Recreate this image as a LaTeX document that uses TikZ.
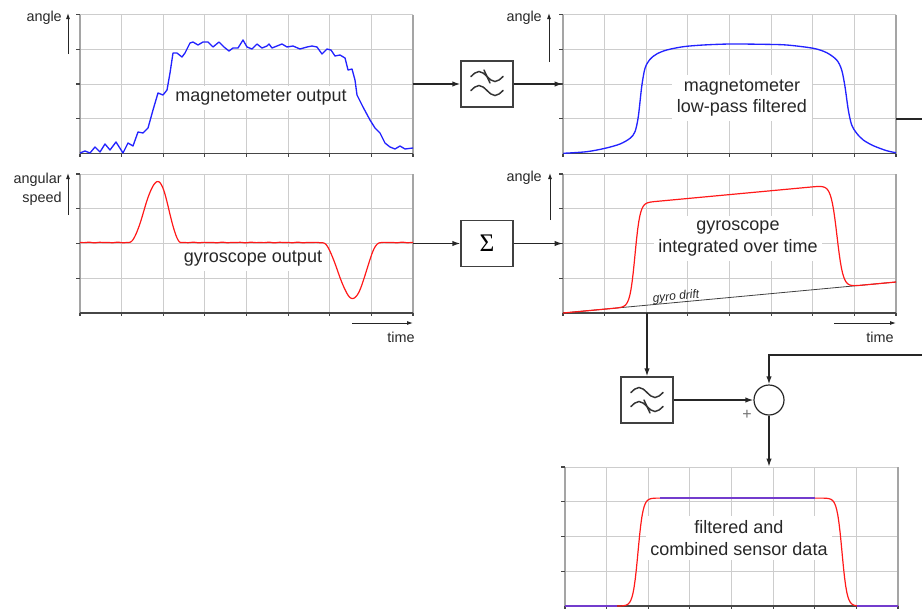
\documentclass[tikz,border=0pt]{standalone}
\usepackage{fontspec}
\setmainfont{Liberation Sans}
\newfontfamily\serifgreek{Liberation Serif}
\usetikzlibrary{arrows.meta,calc}
\definecolor{gridc}{RGB}{205,205,205}
\definecolor{framec}{RGB}{165,165,165}
\definecolor{axisc}{RGB}{70,70,70}
\definecolor{txtc}{RGB}{40,40,40}
\definecolor{magblue}{RGB}{35,35,255}
\definecolor{gyrored}{RGB}{255,25,25}
\definecolor{fusepurple}{RGB}{115,60,205}
\newcommand\plotgrid[2]{%
  \foreach \i in {1,...,7}{\draw[gridline] ({#1+\i*41.625},{#2}) -- ++(0,139);}
  \foreach \j in {0,...,3}{\draw[gridline] ({#1},{#2+\j*34.75}) -- ++(333,0);}
  \draw[frameline] ({#1},{#2}) -- ++(0,139);
  \draw[frameline] ({#1+333},{#2}) -- ++(0,139);
  \foreach \j in {0,...,3}{\draw[axisline] ({#1},{#2+\j*34.75}) -- ++(-4,0);}
  \foreach \i in {0,...,8}{\draw[axisline] ({#1+\i*41.625},{#2+139}) -- ++(0,3);}
  \draw[axisline] ({#1},{#2+139}) -- ++(333,0);
}
\newcommand\twowaves{%
  \draw[wave] (-16,-7.5) sin (-8,-12.5) cos (0,-7.5) sin (8,-2.5) cos (16,-7.5);
  \draw[wave] (-16,6.5) sin (-8,1.5) cos (0,6.5) sin (8,11.5) cos (16,6.5);
}
\begin{document}
\begin{tikzpicture}[x=0.75pt,y=-0.75pt,
  gridline/.style={draw=gridc,line width=0.6pt},
  frameline/.style={draw=framec,line width=0.9pt},
  axisline/.style={draw=axisc,line width=0.8pt},
  conn/.style={draw=black!85,line width=1pt,-{Latex[length=6pt,width=4pt]}},
  axarrow/.style={draw=black!85,line width=0.7pt,-{Latex[length=4.5pt,width=3pt]}},
  lbl/.style={fill=white,inner sep=3.5pt,align=center,text=txtc,font=\fontsize{13.5}{16}\selectfont},
  small/.style={text=txtc,font=\fontsize{10.8}{14}\selectfont,inner sep=0pt},
  block/.style={draw=black!75,line width=0.9pt,fill=white,minimum width=39pt,minimum height=34.5pt,inner sep=0pt},
  sumnode/.style={circle,draw=black!85,line width=0.9pt,minimum size=22.5pt,inner sep=0pt},
  plotarea/.style={minimum width=249.75pt,minimum height=104.25pt,inner sep=0pt,draw=none},
  wave/.style={draw=black!80,line width=1.1pt,line cap=round},
  magc/.style={draw=magblue,line width=1pt,line join=round},
  gyroc/.style={draw=gyrored,line width=0.9pt,line join=round},
  fuse/.style={draw=fusepurple,line width=1.5pt},
  driftl/.style={draw=black!75,line width=0.6pt},
  declare function={st(\u)=1/(1+exp(-2*max(-4,min(4,\u))));
                    rc(\u)=(abs(\u)<1)*0.5*(1+cos(180*\u));}
]
\useasboundingbox (0,0) rectangle (922,608);

% plot areas
\node[plotarea] (p1) at (246.5,84) {};
\node[plotarea] (p2) at (729.5,84) {};
\node[plotarea] (p3) at (246.5,243.5) {};
\node[plotarea] (p4) at (729.5,243.5) {};
\node[plotarea] (p5) at (731.5,536.5) {};

\plotgrid{80}{14.5}
\plotgrid{563}{14.5}
\plotgrid{80}{174}
\plotgrid{563}{174}
\plotgrid{565}{467}

% texts inside plots
\node[lbl] (t1) at (261,98) {magnetometer output};
\node[lbl] (t2) at (742,98) {magnetometer\\low-pass filtered};
\node[lbl] (t3) at (253,259) {gyroscope output};
\node[lbl] (t4) at (738,238.5) {gyroscope\\integrated over time};
\node[lbl] (t5) at (739,538) {filtered and\\combined sensor data};

% axis labels and arrows
\node[small,anchor=east] (a1) at (62,18) {angle};
\draw[axarrow] (68,54) -- (68,13);
\node[small,anchor=east] (a2) at (542,18) {angle};
\draw[axarrow] (549,62) -- (549,13);
\node[small,anchor=east,align=right] (a3) at (62,189) {angular\\speed};
\draw[axarrow] (68,215) -- (68,173);
\node[small,anchor=east] (a4) at (542,178) {angle};
\draw[axarrow] (550,220) -- (550,173);
\draw[axarrow] (352,323) -- (413,323);
\node[small] (tm1) at (401,337) {time};
\draw[axarrow] (834,323) -- (896,323);
\node[small] (tm2) at (880,337) {time};

% magnetometer raw
\draw[magc] plot coordinates {(80,153) (85,151) (90,153) (95,147) (100,152) (105,144) (110,150) (116,142) (123,153) (128,143) (133,146) (138,132) (143,133) (148,128) (153,110) (158,93) (163,95) (167,90) (170,73) (173,53) (177,53) (182,57) (185,53) (190,43) (193,42) (198,45) (203,42) (208,42) (213,47) (219,42) (224,47) (229,51) (233,48) (238,48) (243,40) (247,47) (252,49) (257,44) (262,48) (267,46) (269,44) (272,48) (277,46) (282,44) (287,47) (293,46) (300,49) (307,47) (312,46) (317,47) (322,54) (327,49) (331,50) (335,56) (340,55) (345,58) (348,70) (352,69) (355,80) (357,95) (363,107) (370,120) (375,128) (380,133) (385,143) (390,147) (395,149) (400,146) (405,149) (413,148)};

% magnetometer low-pass
\draw[magc] plot[smooth,tension=0.5] coordinates {(563.3,153.3) (586.7,151.7) (605,148.3) (620,144) (630,138.3) (635,131.7) (638.3,116.7) (641.7,86.7) (645,68.3) (650,59.3) (656.7,54) (666.7,50) (683.3,46.7) (703.3,45) (730,44) (763,44.3) (786.7,45) (813.3,48.3) (826.7,52.7) (836.7,60) (841.7,70) (845,86.7) (848.3,110) (851.7,125) (856.7,133.3) (863.3,140) (873.3,145.7) (886.7,150.7) (896,152.7)};

% gyroscope output
\draw[gyroc] plot[domain=80:413,samples=300] (\x,{242.5 - 61*rc((\x-158)/(\x<158 ? 29 : 23)) + 56*rc((\x-353)/(\x<353 ? 31 : 27)) + 0.3*sin(31*(\x-80))*sin(7*(\x-80))});

% gyro integrated and drift
\draw[driftl] (563,313) -- (896,282);
\node[font=\itshape\fontsize{9}{10}\selectfont,text=txtc,rotate=5.3,inner sep=0pt] (drift) at (676,297) {gyro drift};
\draw[gyroc] plot[domain=563:896,samples=300] (\x,{313 - 31*(\x-563)/333 - 103*(st((\x-635)/5) - st((\x-837)/6))});

% combined
\draw[gyroc] plot[domain=565:898,samples=300] (\x,{606 - 108*(st((\x-638)/5) - st((\x-842)/5))});
\draw[fuse] (565,606) -- (617,606);
\draw[fuse] (660,498) -- (815,498);
\draw[fuse] (857,606) -- (898,606);

% blocks
\node[block] (lp1) at (487,84) {};
\begin{scope}[shift={(lp1.center)}]
  \twowaves
  \draw[wave] (-3,-14) -- (3,-1);
\end{scope}
\node[block] (sig) at (487,243.5) {\serifgreek\fontsize{19}{19}\selectfont Σ};
\node[block] (hp) at (647,400) {};
\begin{scope}[shift={(hp.center)}]
  \twowaves
  \draw[wave] (-3,0) -- (3,13);
\end{scope}
\node[sumnode] (sum) at (769,400) {};
\node[text=black!55,font=\fontsize{12}{12}\selectfont,inner sep=0pt] (plus) at (747,415) {+};

\coordinate (c1) at (924,119);
\coordinate (c2) at (924,355);

% connectors
\draw[conn] (p1.east) -- (lp1);
\draw[conn] (lp1) -- (p2.west);
\draw[conn] (p3.east) -- (sig);
\draw[conn] (sig) -- (p4.west);
\draw[conn] (p4.south -| hp) -- (hp);
\draw[conn] (hp) -- (sum);
\draw[conn] (p2.east |- c1) -- (c1) -- (c2) -| (sum);
\draw[conn] (sum) -- (sum |- p5.north);
\end{tikzpicture}
\end{document}
